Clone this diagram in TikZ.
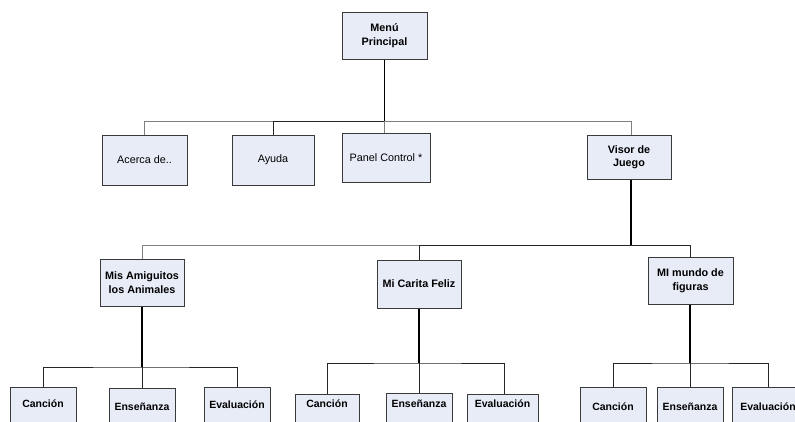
\documentclass[tikz,border=0pt]{standalone}
\usepackage{fontspec}
\setmainfont{Liberation Sans}
\definecolor{boxfill}{HTML}{E8ECF7}
\definecolor{boxline}{HTML}{3A3A3A}
\definecolor{thinline}{HTML}{7F7F7F}
\tikzset{
  box/.style={draw=boxline, fill=boxfill, line width=1pt, inner sep=0pt, align=center,
              font=\fontsize{10.8}{13.5}\selectfont},
  bbox/.style={box, font=\fontsize{10.8}{13.5}\selectfont\bfseries},
  leaf/.style={box, font=\fontsize{10.5}{13}\selectfont\bfseries, anchor=north, text depth=45pt},
  trunk/.style={draw=black, line width=1.8pt},
  dark/.style={draw=black!85, line width=1pt},
  light/.style={draw=thinline, line width=1pt}
}
\begin{document}
\begin{tikzpicture}[x=1pt,y=-1pt]
\path[use as bounding box] (0,0) rectangle (795,421);
\clip (0,0) rectangle (795,421);
% level 1
\node[bbox, minimum width=85pt, minimum height=47pt] (menu) at (384.5,35.5) {Menú\\Principal};
% level 2
\node[box, minimum width=85pt, minimum height=50pt] (acerca) at (144.5,160) {Acerca de..};
\node[box, minimum width=82pt, minimum height=50pt] (ayuda) at (273,160) {Ayuda};
\node[box, minimum width=88pt, minimum height=49pt] (panel) at (386,157.5) {Panel Control *};
\node[bbox, minimum width=84pt, minimum height=44pt] (visor) at (629,157) {Visor de\\Juego};
% level 3
\node[bbox, minimum width=84pt, minimum height=47pt] (mis) at (142,282.5) {Mis Amiguitos\\los Animales};
\node[bbox, minimum width=84pt, minimum height=48pt] (carita) at (419,284) {Mi Carita Feliz};
\node[bbox, minimum width=85pt, minimum height=47pt] (mundo) at (690.5,280.5) {MI mundo de\\figuras};
% level 4
\node[leaf, minimum width=66pt, text height=20pt] (c1) at (43,387) {Canción};
\node[leaf, minimum width=66pt, text height=22pt] (e1) at (142,388) {Enseñanza};
\node[leaf, minimum width=66pt, text height=21pt] (v1) at (237,387) {Evaluación};
\node[leaf, minimum width=64pt, text height=13pt] (c2) at (327,394) {Canción};
\node[leaf, minimum width=66pt, text height=14pt] (e2) at (419,393) {Enseñanza};
\node[leaf, minimum width=71pt, text height=13pt] (v2) at (502.5,394) {Evaluación};
\node[leaf, minimum width=66pt, text height=23pt] (c3) at (613,387) {Canción};
\node[leaf, minimum width=66pt, text height=23pt] (e3) at (690,387) {Enseñanza};
\node[leaf, minimum width=72pt, text height=23pt] (v3) at (768,387) {Evaluación};
% bus coordinates
\coordinate (b1) at (384.5,121);
\coordinate (b2) at (631,245);
\coordinate (b3) at (142,367);
\coordinate (b4) at (419,363);
\coordinate (b5) at (690,363);
% connectors level 1 -> 2
\draw[trunk] (menu.south) -- (b1);
\draw[light] (acerca.north) |- (ayuda.north |- b1);
\draw[dark] (ayuda.north) |- (b1);
\draw[light] (panel.north -| b1) -- (b1);
\draw[light] (b1) -| (visor.north -| b2);
% level 2 -> 3
\draw[trunk] (visor.south -| b2) -- (b2);
\draw[light] (mis.north) |- (carita.north |- b2);
\draw[dark] (carita.north) |- (b2);
\draw[dark] (b2) -| (mundo.north -| b5);
% level 3 -> 4
\draw[trunk] (mis.south) -- (b3);
\draw[dark] (c1.north) |- (b3) -| (v1.north);
\draw[dark] (e1.north) -- (b3);
\draw[trunk] (carita.south) -- (b4);
\draw[dark] (c2.north) |- (b4) -| (504,394);
\draw[dark] (e2.north) -- (b4);
\draw[trunk] (mundo.south -| b5) -- (b5);
\draw[dark] (c3.north) |- (b5) -| (v3.north);
\draw[dark] (e3.north) -- (b5);
\end{tikzpicture}
\end{document}
